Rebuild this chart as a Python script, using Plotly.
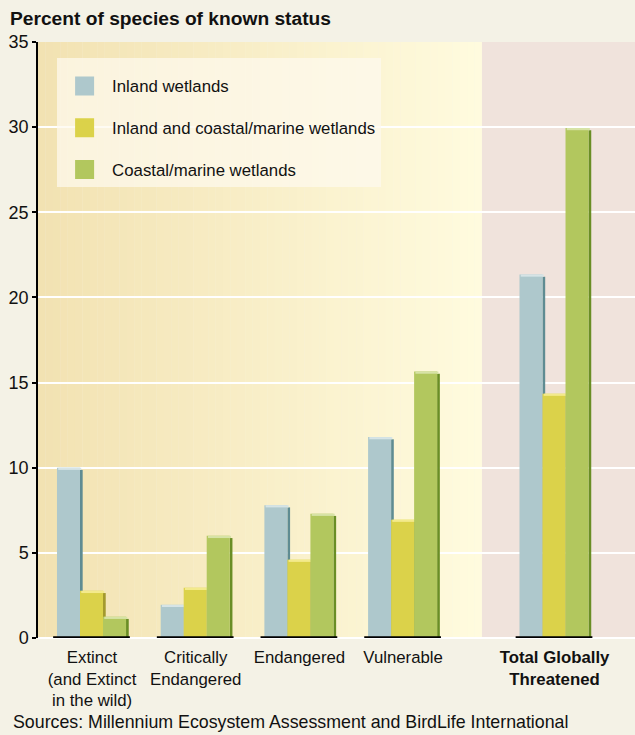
import plotly.graph_objects as go

# ---------------- data ----------------
categories = [
    "Extinct<br>(and Extinct<br>in the wild)",
    "Critically<br>Endangered",
    "Endangered",
    "Vulnerable",
    "<b>Total Globally<br>Threatened</b>",
]
series_names = ["Inland wetlands", "Inland and coastal/marine wetlands", "Coastal/marine wetlands"]
inland = [10.0, 1.95, 7.8, 11.8, 21.35]
inland_coastal = [2.77, 2.95, 4.6, 6.95, 14.35]
coastal = [1.25, 6.0, 7.3, 15.65, 29.95]
y_ticks = [0, 5, 10, 15, 20, 25, 30, 35]

# ---------------- layout helpers ----------------
cat_pos = [0, 1, 2, 3, 4.46]
x_range = [-0.521, 5.236]
split_x = 3.76
bar_w = 0.222
first_off = -0.338

main_cols = ["#AEC8CC", "#DBD24A", "#B2C75E"]
top_cols = ["#D6E4E6", "#F3EA8C", "#D7E3A6"]
side_cols = ["#5F8C92", "#A39A2E", "#6A8E25"]
values = [inland, inland_coastal, coastal]

FONT = "Liberation Sans, Arial, sans-serif"

fig = go.Figure()

for i, (name, vals) in enumerate(zip(series_names, values)):
    off = first_off + i * bar_w
    cap = 0.13
    # side face (right, darker)
    fig.add_trace(go.Bar(
        x=cat_pos, y=[v - cap for v in vals], base=0,
        width=0.026, offset=off + bar_w,
        marker=dict(color=side_cols[i], line=dict(width=0)),
        showlegend=False, hoverinfo="skip"))
    # front face
    fig.add_trace(go.Bar(
        x=cat_pos, y=vals, base=0,
        width=bar_w, offset=off,
        marker=dict(color=main_cols[i], line=dict(width=0)),
        showlegend=False, name=name))
    # top face
    fig.add_trace(go.Bar(
        x=cat_pos, y=[cap] * len(vals), base=[v - cap for v in vals],
        width=bar_w, offset=off + 0.012,
        marker=dict(color=top_cols[i], line=dict(width=0)),
        showlegend=False, hoverinfo="skip"))

# legend entries
for i, name in enumerate(series_names):
    fig.add_trace(go.Scatter(
        x=[None], y=[None], mode="markers", name=name,
        legendgroup=f"g{i}",
        marker=dict(symbol="square", size=16, color=main_cols[i],
                    line=dict(color=main_cols[i], width=3))))

# background: gradient left part, pink right part
shapes = []
n = 60
c0 = (242, 226, 178)
c1 = (255, 251, 222)
for k in range(n):
    t = k / (n - 1)
    col = tuple(round(c0[j] + (c1[j] - c0[j]) * t) for j in range(3))
    xa = x_range[0] + (split_x - x_range[0]) * k / n
    xb = x_range[0] + (split_x - x_range[0]) * (k + 1) / n + 0.002
    shapes.append(dict(type="rect", xref="x", yref="y", x0=xa, x1=min(xb, split_x), y0=0, y1=35,
                       fillcolor="rgb(%d,%d,%d)" % col, line=dict(width=0), layer="below"))
shapes.append(dict(type="rect", xref="x", yref="y", x0=split_x, x1=x_range[1], y0=0, y1=35,
                   fillcolor="#F0E3DC", line=dict(width=0), layer="below"))
# black baseline segments under groups
for p in cat_pos:
    shapes.append(dict(type="line", xref="x", yref="y", x0=p - 0.375, x1=p + 0.365, y0=0, y1=0,
                       line=dict(color="black", width=3.5), layer="above"))

fig.update_layout(
    width=635, height=735,
    margin=dict(l=38, r=0, t=42, b=97),
    paper_bgcolor="#F4F2E6",
    plot_bgcolor="#F4F2E6",
    barmode="overlay",
    shapes=shapes,
    font=dict(family=FONT, color="#111111", size=16),
    showlegend=True,
    legend=dict(
        x=0.032, y=0.973, xanchor="left", yanchor="top",
        bgcolor="rgba(253,250,238,0.72)", borderwidth=0,
        font=dict(size=16.8, family=FONT, color="#111111"),
        title=dict(text=" ", font=dict(size=8)),
        traceorder="grouped", tracegroupgap=17, itemwidth=45,
    ),
    annotations=[
        dict(text="<b>Percent of species of known status</b>", xref="paper", yref="paper",
             x=-0.05, y=1.0, yshift=24, xanchor="left", yanchor="middle", showarrow=False,
             font=dict(size=19.2, family=FONT, color="#111111")),
        dict(text="Sources: Millennium Ecosystem Assessment and BirdLife International",
             xref="paper", yref="paper", x=-0.045, y=0, yshift=-84, xanchor="left",
             yanchor="middle", showarrow=False, font=dict(size=17.8, family=FONT, color="#111111")),
    ],
)

fig.update_xaxes(
    range=x_range, tickvals=cat_pos, ticktext=categories,
    showgrid=False, zeroline=False, showline=False, ticks="",
    ticklabelstandoff=7,
    tickfont=dict(size=16.8, family=FONT, color="#111111"),
    fixedrange=True,
)
fig.update_yaxes(
    range=[0, 35], tickvals=y_ticks, ticktext=[str(v) for v in y_ticks],
    showgrid=True, gridcolor="white", gridwidth=2,
    zeroline=True, zerolinecolor="white", zerolinewidth=2,
    showline=True, linecolor="black", linewidth=1.5,
    ticks="outside", ticklen=4, tickcolor="black", tickwidth=1.5,
    tickfont=dict(size=18, family=FONT, color="#111111"),
    fixedrange=True,
)

fig.write_html(
    "out.html",
    config={"displayModeBar": False},
    post_script="document.body.style.margin='0';document.body.style.background='#F4F2E6';",
)
